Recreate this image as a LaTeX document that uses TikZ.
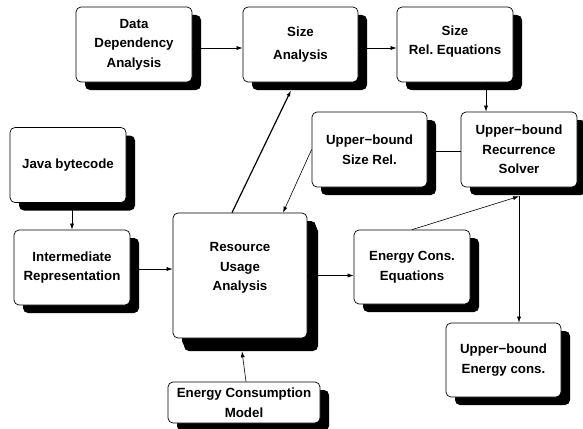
\documentclass[tikz,border=0pt]{standalone}
\usepackage{fontspec}
\setmainfont{Liberation Sans}
\frenchspacing
\usetikzlibrary{arrows.meta,shadows}
\begin{document}
\begin{tikzpicture}[x=1pt,y=-1pt,
  box/.style={draw=black,line width=0.7pt,rounded corners=5pt,fill=white,
    align=center,inner sep=0pt,minimum width=116pt,minimum height=75pt,
    font=\fontsize{13.3}{19.5}\selectfont\bfseries,
    drop shadow={shadow xshift=9pt,shadow yshift=-8pt,fill=black,opacity=1}},
  bigbox/.style={box,drop shadow={shadow xshift=11pt,shadow yshift=-13pt,fill=black,opacity=1}},
  txt/.style={align=center,inner sep=0pt,font=\fontsize{13.3}{19.5}\selectfont\bfseries},
  arr/.style={line width=0.6pt,-{Latex[length=6pt,width=4pt]}}]
\useasboundingbox (0,0) rectangle (583,428);

\node[box] (dda) at (134,44.5) {Data\\Dependency\\Analysis};
\node[box,minimum width=115pt] (sa) at (300.5,44.5) {Size\\[3pt]Analysis};
\node[box] (sre) at (455,44.5) {};
\node[txt] (sretext) at (455,41.5) {Size\\Rel.\ Equations};
\node[box,minimum width=115pt] (ubsr) at (369.5,149.5) {Upper−bound\\Size Rel.};
\node[box] (ubrs) at (519,149.5) {Upper−bound\\Recurrence\\Solver};
\node[box] (java) at (68,165) {Java bytecode};
\node[box] (ir) at (72,267.5) {Intermediate\\Representation};
\node[bigbox,minimum width=134pt,minimum height=125pt] (rua) at (240,275.5) {};
\node[txt] (ruatext) at (240,268) {Resource\\Usage\\Analysis};
\node[box,minimum width=152pt,minimum height=41pt] (ecm) at (244,402.5) {Energy Consumption\\Model};
\node[box,minimum height=74pt] (ece) at (412,267) {Energy Cons.\\Equations};
\node[box,minimum width=115pt,minimum height=74pt] (ubec) at (503.5,360) {Upper−bound\\Energy cons.};

\draw[arr] ([yshift=-3.5pt]dda.east) -- ([yshift=-3.5pt]sa.west);
\draw[arr] ([yshift=-3.5pt]sa.east) -- ([yshift=-3.5pt]sre.west);
\draw[arr] ([xshift=31pt]sre.south) -- ([xshift=-33pt]ubrs.north);
\draw[arr] ([yshift=-1.5pt]ubrs.west) -- ([yshift=-1.5pt]ubsr.east);
\draw[arr] (ubsr.west) -- ([xshift=43pt]rua.north);
\draw[arr,line width=1.2pt] ([xshift=-8pt]rua.north) -- ([xshift=-9.5pt,yshift=-8pt]sa.south);
\draw[arr] (java.south -| ir.north) -- (ir.north);
\draw[arr] ([yshift=-1.5pt]ir.east) -- ([yshift=-1.5pt]ir.east -| rua.west);
\draw[arr] (rua.east) -- (rua.east -| ece.west);
\draw[arr] (ece.north) -- ([yshift=-9pt]ubrs.south);
\draw[arr] ([yshift=-9pt]ubrs.south) -- (ubrs.south |- ubec.north);
\draw[arr] ([xshift=2pt]ecm.north) -- ([xshift=2pt,yshift=-13pt]rua.south);
\end{tikzpicture}
\end{document}
